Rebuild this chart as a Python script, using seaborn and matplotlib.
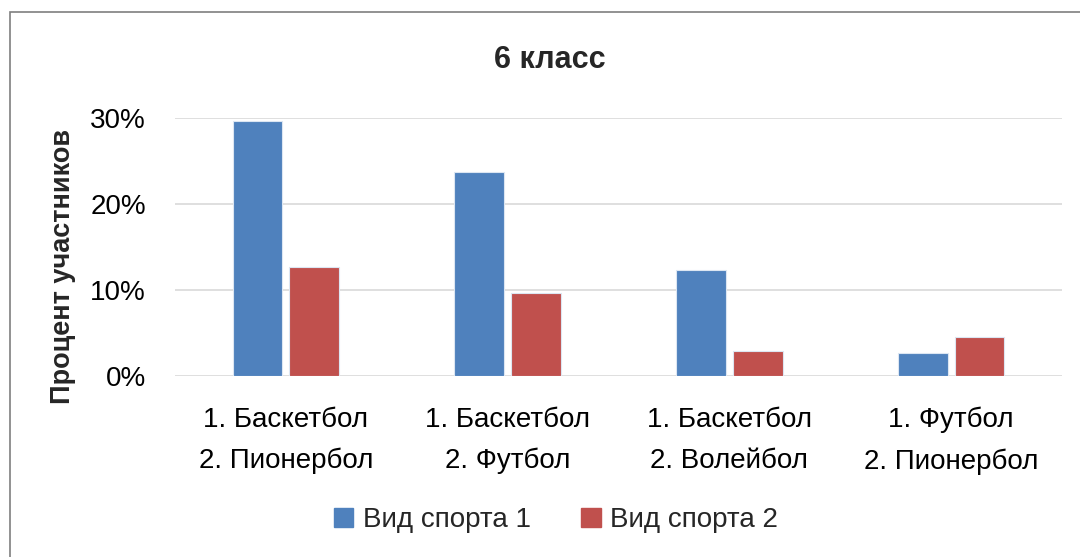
import pandas as pd
import matplotlib
matplotlib.use('Agg')
import matplotlib.pyplot as plt
import matplotlib.patches as mpatches
from matplotlib.ticker import PercentFormatter
import seaborn as sns

categories = ['1. Баскетбол\n2. Пионербол', '1. Баскетбол\n2. Футбол',
              '1. Баскетбол\n2. Волейбол', '1. Футбол\n2. Пионербол']
sport1 = [0.296, 0.237, 0.123, 0.027]
sport2 = [0.127, 0.097, 0.029, 0.045]
series_names = ['Вид спорта 1', 'Вид спорта 2']
colors = ['#4F81BD', '#C0504D']

df = pd.DataFrame({
    'category': categories * 2,
    'value': sport1 + sport2,
    'series': [series_names[0]] * 4 + [series_names[1]] * 4,
})

sns.set_style('white')
plt.rcParams['font.family'] = ['Liberation Sans', 'DejaVu Sans']

fig = plt.figure(figsize=(10.8, 5.57), dpi=100)
ax = fig.add_axes([175 / 1080, 1 - 376 / 557, (1062 - 175) / 1080, (376 - 118) / 557])

sns.barplot(data=df, x='category', y='value', hue='series', palette=colors,
            saturation=1, width=0.51, gap=0.12, edgecolor='#dce6f2',
            linewidth=0.8, ax=ax)

ax.set_ylim(0, 0.30)
ax.set_yticks([0, 0.1, 0.2, 0.3])
ax.yaxis.set_major_formatter(PercentFormatter(1.0, decimals=0))
ax.grid(axis='y', color='#D9D9D9', linewidth=1.2)
ax.set_axisbelow(True)
for s in ax.spines.values():
    s.set_visible(False)
ax.set_xticks(range(len(categories)))
ax.set_xticklabels(categories, linespacing=1.75)
ax.tick_params(axis='x', length=0, labelsize=20, colors='#000000', pad=22)
ax.tick_params(axis='y', length=0, labelsize=20, colors='#000000', pad=21)
ax.set_xlabel('')
ax.set_ylabel('Процент участников', fontsize=19.5, fontweight='bold', va='center')
ax.yaxis.set_label_coords((63 - 175) / 887, (376 - 266) / 258)

fig.text(550 / 1080, 1 - 60 / 557, '6 класс', ha='center', va='center',
         fontsize=22, fontweight='bold')

ax.get_legend().remove()
handles = [mpatches.Patch(color=c, label=n) for c, n in zip(colors, series_names)]
fig.legend(handles=handles, loc='center', bbox_to_anchor=(556 / 1080, 1 - 520 / 557),
           ncol=2, frameon=False, fontsize=20, handlelength=0.7, handleheight=0.7,
           handletextpad=0.35, columnspacing=1.8)

# outer chart border
fig.patches.append(mpatches.Rectangle((10 / 1080, -0.05), 1.1, 1 - 12 / 557 + 0.05,
                                      transform=fig.transFigure, fill=False,
                                      edgecolor='#7f7f7f', linewidth=1.2))

fig.savefig('out.png', dpi=100)
